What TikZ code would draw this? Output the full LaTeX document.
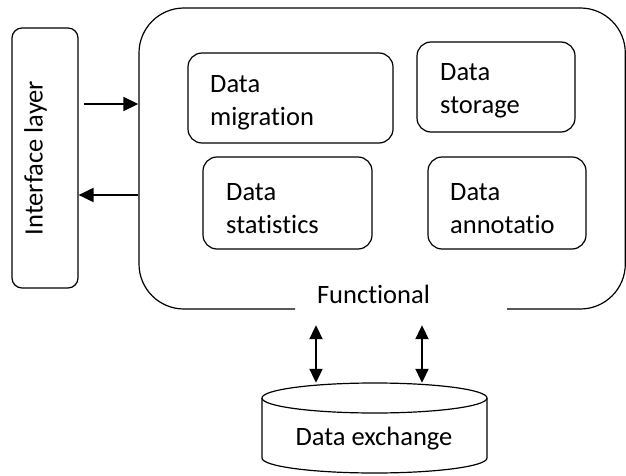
\documentclass[tikz,border=0pt]{standalone}
\usepackage{fontspec}
\setmainfont[Ligatures={NoCommon,NoRequired,NoContextual}]{Carlito}
\usetikzlibrary{arrows.meta}
\begin{document}
\begin{tikzpicture}[x=1pt,y=1pt,
  boxline/.style={draw=black,line width=1.2pt},
  rbox/.style={boxline,rounded corners=14pt,inner sep=0pt},
  txt/.style={inner sep=0pt,align=left,font=\fontsize{26.5pt}{33.5pt}\selectfont},
  arr/.style={line width=2pt,-{Triangle[length=15pt,width=14pt]}},
  darr/.style={line width=2pt,{Triangle[length=14pt,width=13pt]}-{Triangle[length=14pt,width=13pt]}}]
\useasboundingbox (0,0) rectangle (626,-476);
% interface layer
\node[rbox,rounded corners=10pt,minimum width=66pt,minimum height=260pt] (iface) at (45,-158) {};
\node[txt,rotate=90,anchor=base] (ifaceT) at (42.5,-158) {Interface layer};
% functional container (open at the bottom for its label)
\node[inner sep=0pt,minimum width=487pt,minimum height=301pt] (func) at (382,-158.5) {};
\draw[boxline,rounded corners=45pt] (295,-309) -- (139,-309) -- (139,-8) -- (625.3,-8) -- (625.3,-309) -- (507,-309);
\node[txt,anchor=base] (funcT) at (373.5,-303) {Functional};
% inner modules
\node[rbox,minimum width=205pt,minimum height=90pt] (mig) at (290.5,-98) {};
\node[rbox,minimum width=158pt,minimum height=90pt] (sto) at (496,-87) {};
\node[rbox,minimum width=169pt,minimum height=92pt] (stat) at (287.5,-203) {};
\node[rbox,minimum width=158pt,minimum height=92pt] (ann) at (507,-203) {};
\node[txt,anchor=north west] (migT) at (210,-75) {Data\\migration};
\node[txt,anchor=north west] (stoT) at (440,-63) {Data\\storage};
\node[txt,anchor=north west] (statT) at (226,-183) {Data\\statistics};
\node[txt,anchor=north west] (annT) at (450,-183) {Data\\annotatio};
% data exchange cylinder
\node[inner sep=0pt,minimum width=225pt,minimum height=90pt] (dx) at (374.5,-428) {};
\draw[boxline] (374.5,-398) ellipse [x radius=112.5, y radius=15];
\draw[boxline] (262,-398) -- (262,-458) arc[start angle=180,end angle=360,x radius=112.5,y radius=15] -- (487,-398);
\node[txt,anchor=base] (dxT) at (374,-445) {Data exchange};
% connectors
\draw[arr,shorten <=5pt] (iface.east |- 0,-104) -- (func.west |- 0,-104);
\draw[arr] (func.west |- 0,-195) -- (iface.east |- 0,-195);
\draw[darr,shorten <=16pt] (func.south -| 316,0) -- (dx.north -| 316,0);
\draw[darr,shorten <=16pt] (func.south -| 422,0) -- (dx.north -| 422,0);
\end{tikzpicture}
\end{document}
